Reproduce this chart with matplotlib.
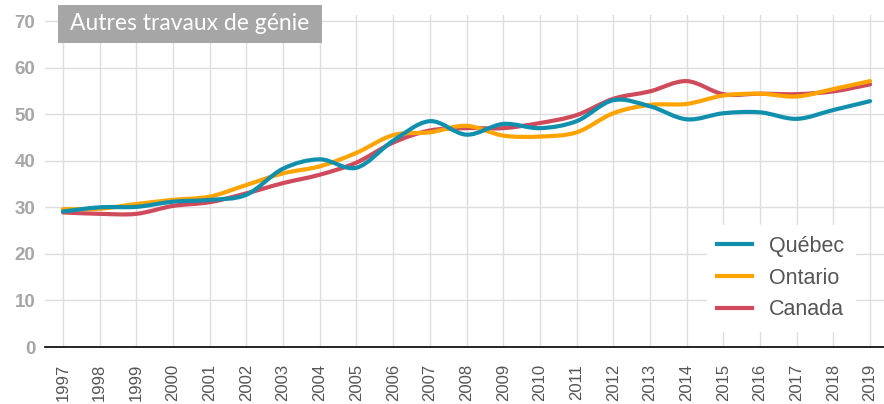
import numpy as np
import matplotlib
matplotlib.use('Agg')
import matplotlib.pyplot as plt
from matplotlib.path import Path
from matplotlib.patches import PathPatch, Rectangle
from matplotlib.lines import Line2D

### Data
years = list(range(1997, 2020))
quebec = [29.1, 30.0, 30.1, 31.2, 31.6, 32.7, 38.3, 40.3, 38.5, 44.3, 48.5, 45.6,
          47.9, 47.0, 48.5, 53.0, 51.7, 48.9, 50.2, 50.4, 49.0, 50.9, 52.8]
ontario = [29.6, 29.7, 30.7, 31.6, 32.3, 34.8, 37.3, 38.8, 41.7, 45.5, 46.1, 47.5,
           45.4, 45.2, 46.1, 50.2, 52.0, 52.2, 54.0, 54.4, 53.8, 55.4, 57.1]
canada = [28.9, 28.6, 28.6, 30.3, 31.1, 33.0, 35.2, 37.0, 39.6, 43.9, 46.5, 47.0,
          47.0, 48.1, 49.8, 53.3, 54.9, 57.1, 54.3, 54.4, 54.3, 54.9, 56.4]
series_names = ['Québec', 'Ontario', 'Canada']
title = 'Autres travaux de génie'

colors = {'Québec': '#1190ad', 'Ontario': '#ffa300', 'Canada': '#cf4a5b'}


def smooth_path(x, y):
    ''' Bezier path through the points (Excel-like smoothed line) '''
    pts = np.column_stack([x, y]).astype(float)
    n = len(pts)
    verts = [pts[0]]
    codes = [Path.MOVETO]
    for i in range(n - 1):
        p0 = pts[i - 1] if i > 0 else pts[i]
        p1 = pts[i]
        p2 = pts[i + 1]
        p3 = pts[i + 2] if i + 2 < n else pts[i + 1]
        c1 = p1 + (p2 - p0) / 6.
        c2 = p2 - (p3 - p1) / 6.
        verts += [c1, c2, p2]
        codes += [Path.CURVE4] * 3
    return Path(verts, codes)


W, H = 884, 404
fig = plt.figure(figsize=(W / 100, H / 100), dpi=100)
ax = fig.add_axes([45 / W, (H - 347) / H, (W - 45) / W, (347 - 15) / H])

data = {'Québec': quebec, 'Ontario': ontario, 'Canada': canada}
zorder = {'Canada': 3, 'Ontario': 4, 'Québec': 5}
for nm in series_names:
    pp = PathPatch(smooth_path(years, data[nm]), facecolor='none',
                   edgecolor=colors[nm], lw=3, capstyle='round',
                   joinstyle='round', zorder=zorder[nm])
    ax.add_patch(pp)

ax.set_xlim(1996.51, 2019.38)
ax.set_ylim(0, 71.3)
ax.set_xticks(years)
ax.set_xticklabels([str(y) for y in years], rotation=90, fontsize=12,
                   color='#555555', family='Liberation Sans')
ax.set_yticks(range(0, 80, 10))
ax.set_yticklabels([str(v) for v in range(0, 80, 10)], fontsize=13.5,
                   fontweight='bold', color='#a6a6a6', family='Liberation Sans')
ax.tick_params(axis='both', length=0)
ax.tick_params(axis='x', pad=12)
ax.tick_params(axis='y', pad=7)

ax.grid(True, color='#dddddd', lw=1.0, zorder=0)
ax.set_axisbelow(True)
for s in ['top', 'right', 'left']:
    ax.spines[s].set_visible(False)
ax.spines['bottom'].set_color('k')
ax.spines['bottom'].set_linewidth(1.2)

### Legend
handles = [Line2D([], [], color=colors[nm], lw=3) for nm in series_names]
leg = ax.legend(handles, series_names, loc='lower right',
                bbox_to_anchor=(0.9655, 0.048), borderaxespad=0,
                frameon=True, fancybox=False, framealpha=1, edgecolor='white',
                prop={'family': 'Liberation Sans', 'size': 15.5},
                handlelength=1.6, handletextpad=0.8, labelspacing=0.5,
                borderpad=0.5)
for t in leg.get_texts():
    t.set_color('#555555')

### Title box
fig.patches.append(Rectangle((58 / W, (H - 43) / H), 264 / W, 38 / H,
                             facecolor='#a6a6a6', edgecolor='none',
                             transform=fig.transFigure, zorder=10))
fig.text(70 / W, (H - 24) / H, title, color='white', fontsize=16.5,
         family='Lato', ha='left', va='center', zorder=11)

fig.savefig('out.png', dpi=100)
